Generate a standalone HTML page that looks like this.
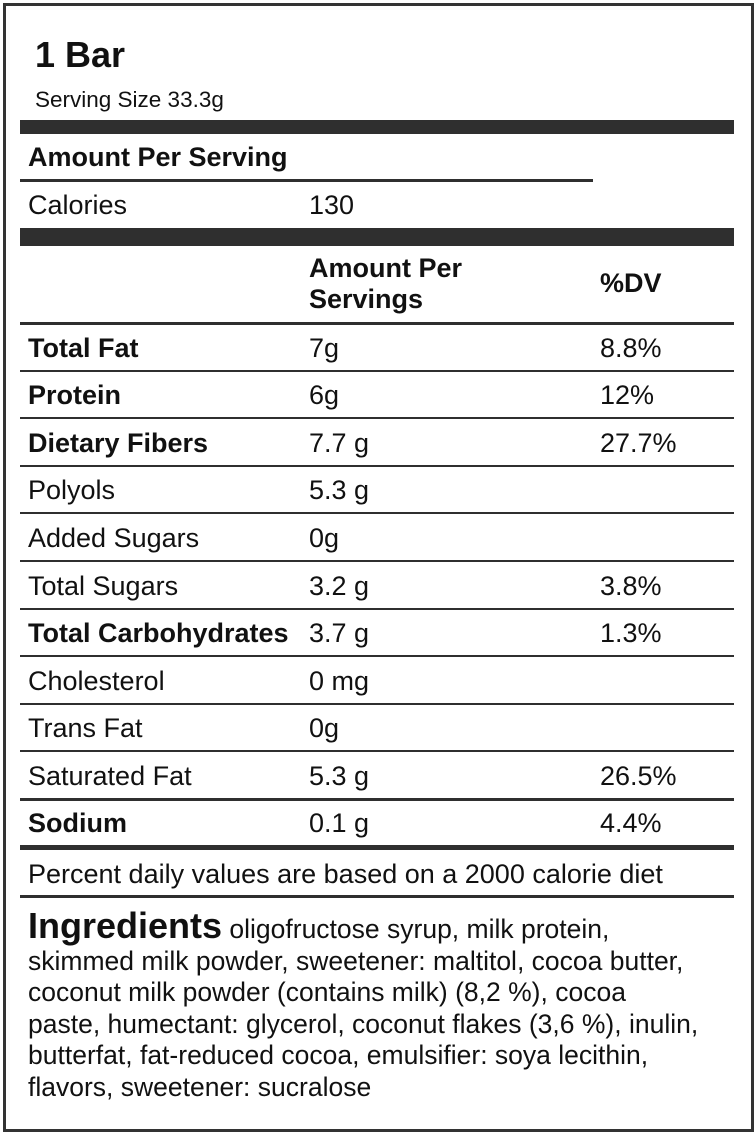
<!DOCTYPE html>
<html><head><style>
body{margin:0;width:756px;height:1133px;background:#fff;position:relative;font-family:"Liberation Sans",Arial,sans-serif;color:#111;overflow:hidden}
.a{position:absolute}
.bar{position:absolute;background:#2f2f2f}
.t{position:absolute;font-size:27px;line-height:30px;white-space:nowrap}
.b{font-weight:bold}
</style></head><body>
<div class="a" style="left:3px;top:3px;width:745px;height:1123px;border:3px solid #333"></div>
<div class="t b" style="left:35px;top:35px;font-size:36px;line-height:40px">1 Bar</div>
<div class="t" style="left:35px;top:85px;font-size:22.5px">Serving Size 33.3g</div>
<div class="bar" style="left:20px;top:120px;width:714px;height:14px"></div>
<div class="t b" style="left:28px;top:142px">Amount Per Serving</div>
<div class="bar" style="left:20px;top:179px;width:573px;height:3px"></div>
<div class="t" style="left:28px;top:190px">Calories</div>
<div class="t" style="left:309px;top:190px">130</div>
<div class="bar" style="left:20px;top:228px;width:714px;height:18px"></div>
<div class="t b" style="left:309px;top:253px;line-height:31px">Amount Per<br>Servings</div>
<div class="t b" style="left:600px;top:268px">%DV</div>
<div class="bar" style="left:20px;top:322px;width:714px;height:3px"></div>

<div class="t b" style="left:28px;top:333px">Total Fat</div><div class="t" style="left:309px;top:333px">7g</div><div class="t" style="left:600px;top:333px">8.8%</div>
<div class="bar" style="left:20px;top:370px;width:714px;height:2px"></div>
<div class="t b" style="left:28px;top:380px">Protein</div><div class="t" style="left:309px;top:380px">6g</div><div class="t" style="left:600px;top:380px">12%</div>
<div class="bar" style="left:20px;top:417px;width:714px;height:2px"></div>
<div class="t b" style="left:28px;top:428px">Dietary Fibers</div><div class="t" style="left:309px;top:428px">7.7 g</div><div class="t" style="left:600px;top:428px">27.7%</div>
<div class="bar" style="left:20px;top:465px;width:714px;height:2px"></div>
<div class="t" style="left:28px;top:475px">Polyols</div><div class="t" style="left:309px;top:475px">5.3 g</div>
<div class="bar" style="left:20px;top:512px;width:714px;height:2px"></div>
<div class="t" style="left:28px;top:523px">Added Sugars</div><div class="t" style="left:309px;top:523px">0g</div>
<div class="bar" style="left:20px;top:560px;width:714px;height:2px"></div>
<div class="t" style="left:28px;top:571px">Total Sugars</div><div class="t" style="left:309px;top:571px">3.2 g</div><div class="t" style="left:600px;top:571px">3.8%</div>
<div class="bar" style="left:20px;top:608px;width:714px;height:2px"></div>
<div class="t b" style="left:28px;top:618px">Total Carbohydrates</div><div class="t" style="left:309px;top:618px">3.7 g</div><div class="t" style="left:600px;top:618px">1.3%</div>
<div class="bar" style="left:20px;top:655px;width:714px;height:2px"></div>
<div class="t" style="left:28px;top:666px">Cholesterol</div><div class="t" style="left:309px;top:666px">0 mg</div>
<div class="bar" style="left:20px;top:703px;width:714px;height:2px"></div>
<div class="t" style="left:28px;top:713px">Trans Fat</div><div class="t" style="left:309px;top:713px">0g</div>
<div class="bar" style="left:20px;top:750px;width:714px;height:2px"></div>
<div class="t" style="left:28px;top:761px">Saturated Fat</div><div class="t" style="left:309px;top:761px">5.3 g</div><div class="t" style="left:600px;top:761px">26.5%</div>
<div class="bar" style="left:20px;top:798px;width:714px;height:3px"></div>
<div class="t b" style="left:28px;top:808px">Sodium</div><div class="t" style="left:309px;top:808px">0.1 g</div><div class="t" style="left:600px;top:808px">4.4%</div>
<div class="bar" style="left:20px;top:845px;width:714px;height:5px"></div>
<div class="t" style="left:28px;top:859px">Percent daily values are based on a 2000 calorie diet</div>
<div class="bar" style="left:20px;top:895px;width:714px;height:3px"></div>
<div class="a" style="left:28px;top:910px;width:720px;font-size:26.5px;line-height:31.6px;white-space:nowrap"><span class="b" style="font-size:36px">Ingredients</span> oligofructose syrup, milk protein,<br>skimmed milk powder, sweetener: maltitol, cocoa butter,<br>coconut milk powder (contains milk) (8,2 %), cocoa<br>paste, humectant: glycerol, coconut flakes (3,6 %), inulin,<br>butterfat, fat-reduced cocoa, emulsifier: soya lecithin,<br>flavors, sweetener: sucralose</div>
</body></html>
